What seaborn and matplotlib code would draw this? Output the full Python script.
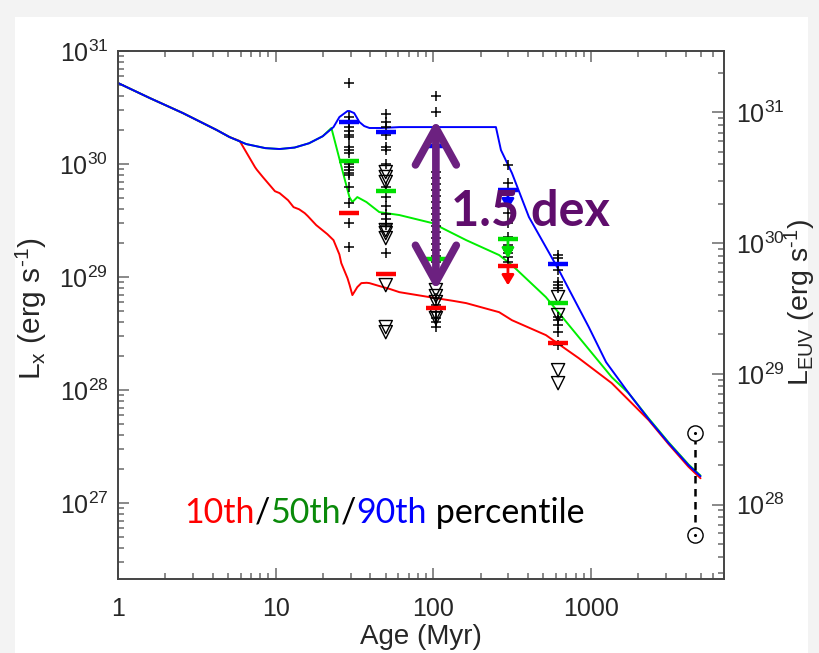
import numpy as np
import pandas as pd
import matplotlib
matplotlib.use("Agg")
import matplotlib.pyplot as plt
import matplotlib.transforms as mtransforms
from matplotlib.patches import Rectangle
from matplotlib.ticker import LogLocator, NullFormatter, LogFormatterSciNotation
import seaborn as sns

# ---------------- data (ages in Myr, luminosities as log10 erg/s) ----------------
blue_age = [1, 1.59, 2.58, 4.23, 5.1, 6.5, 8.6, 10.6, 13.2, 16.3, 19.9, 23.3, 25.4, 28.6,
            29.4, 31.5, 34, 36.5, 39.4, 47, 61, 100, 250, 269, 316, 405, 627, 971,
            1250, 1741, 2330, 3120, 4170, 4966]
blue_logLx = [30.717, 30.584, 30.451, 30.301, 30.239, 30.177, 30.141, 30.133, 30.146,
              30.184, 30.246, 30.327, 30.416, 30.469, 30.469, 30.451, 30.372, 30.336,
              30.319, 30.319, 30.327, 30.327, 30.327, 30.124, 29.920, 29.531, 29.062,
              28.558, 28.248, 27.973, 27.743, 27.531, 27.336, 27.239]

green_age = [1, 1.59, 2.58, 4.23, 5.1, 6.5, 8.6, 10.6, 13.2, 16.3, 19.9, 22.6, 26.5,
             29.4, 30.7, 33, 37.7, 45.5, 61, 98.6, 162, 262, 316, 519, 839, 1358, 1740,
             2330, 3120, 4170, 4966]
green_logLx = [30.717, 30.584, 30.451, 30.301, 30.239, 30.177, 30.141, 30.133, 30.146,
               30.184, 30.246, 30.319, 29.947, 29.708, 29.664, 29.708, 29.664, 29.575,
               29.549, 29.478, 29.327, 29.195, 29.106, 28.823, 28.469, 28.115, 27.973,
               27.750, 27.538, 27.343, 27.245]

red_age = [1, 1.59, 2.58, 4.23, 5.1, 5.92, 7.4, 7.6, 8.3, 9.9, 10.6, 12.0, 13.0, 14.1, 15.3,
           16.0, 18.1, 21.3, 23.3, 25.4, 26.1, 28.6, 29.5, 30.7, 33.0, 35.0, 37.8,
           39.4, 45.8, 53.1, 61, 104, 134, 162, 262, 316, 519, 839, 1358, 2330, 3120,
           4170, 4966]
red_logLx = [30.717, 30.584, 30.451, 30.301, 30.239, 30.204, 29.973, 29.950, 29.885,
             29.760, 29.743, 29.680, 29.619, 29.600, 29.566, 29.540, 29.460, 29.380,
             29.327, 29.200, 29.124, 28.990, 28.929, 28.841, 28.912, 28.947, 28.950,
             28.947, 28.920, 28.895, 28.867, 28.814, 28.790, 28.770, 28.690, 28.619,
             28.487, 28.283, 28.062, 27.735, 27.522, 27.322, 27.221]

# percentile bars at each cluster age
cluster_age = [29.4, 50, 104, 298, 620]
p10_logLx = [29.566, 29.027, 28.726, 29.097, 28.416]
p50_logLx = [30.027, 29.761, 29.159, 29.336, 28.770]
p90_logLx = [30.372, 30.283, 30.159, 29.770, 29.115]
limit_drop = 0.17   # length of upper-limit arrows at 300 Myr (dex)

# individual stars: detections (+) and upper limits (triangles)
det_age = ([29.4] * 19 + [50] * 14 + [104] * 24 + [298] * 11 + [620] * 12)
det_logLx = [30.717, 30.416, 30.372, 30.327, 30.292, 30.257, 30.239, 30.150, 30.124,
             30.097, 30.000, 29.973, 29.947, 29.920, 29.903, 29.796, 29.655, 29.478, 29.265,
             30.442, 30.372, 30.327, 30.257, 30.150, 30.124, 30.000, 29.796, 29.708,
             29.628, 29.558, 29.513, 29.460, 29.212,
             30.602, 30.460, 29.929, 29.876, 29.823, 29.770, 29.717, 29.664, 29.611,
             29.558, 29.504, 29.451, 29.398, 29.345, 29.292, 29.239, 29.186, 29.133,
             28.814, 28.752, 28.690, 28.637, 28.602, 28.558,
             29.991, 29.832, 29.681, 29.566, 29.478, 29.354, 29.283, 29.239, 29.212,
             29.177, 29.133,
             29.195, 29.168, 29.124, 29.062, 28.956, 28.929, 28.903, 28.646, 28.619,
             28.575, 28.513, 28.398]
lim_age = [50] * 9 + [104] * 5 + [620] * 4
lim_logLx = [29.929, 29.885, 29.841, 29.416, 29.389, 29.345, 28.929, 28.558, 28.513,
             28.885, 28.832, 28.779, 28.673, 28.637,
             28.823, 28.664, 28.177, 28.062]

# the Sun
sun_age = 4570
sun_logLx_hi = 27.619
sun_logLx_lo = 26.717

# spread arrow
dex_age = 104
dex_logLx_top = 30.389
dex_logLx_bot = 28.885

xtick_vals = [1, 10, 100, 1000]
xtick_labels = ["1", "10", "100", "1000"]
ytick_left = [1e27, 1e28, 1e29, 1e30, 1e31]
ytick_right = [1e28, 1e29, 1e30, 1e31]

# ---------------- style ----------------
sns.set_style("white")
plt.rcParams["font.family"] = ["Liberation Sans", "DejaVu Sans"]
plt.rcParams["mathtext.fontset"] = "custom"
plt.rcParams["mathtext.rm"] = "Liberation Sans"
plt.rcParams["mathtext.it"] = "Liberation Sans:italic"
plt.rcParams["mathtext.bf"] = "Liberation Sans:bold"

RED, GREEN, BLUE = "#ff0000", "#00ee00", "#0000ff"
PURPLE_T, PURPLE_A = "#5f0d6c", "#6c2180"
SPINE, TICK = "#444444", "#6a6a6a"

W, H = 820, 653
fig = plt.figure(figsize=(W / 100, H / 100), dpi=100, facecolor="#f3f3f3")
fig.patches.append(Rectangle((15 / W, 0), (808 - 15) / W, 1 - 17 / H,
                             transform=fig.transFigure, facecolor="white",
                             edgecolor="none", zorder=-10))
ax = fig.add_axes([118 / W, 1 - 579 / H, 606 / W, 528 / H])
ax.set_xscale("log")
ax.set_yscale("log")
ax.set_xlim(1, 7000)
ax.set_ylim(10 ** 26.33, 1e31)

# ---------------- curves ----------------
curves = pd.concat([
    pd.DataFrame({"age": red_age, "Lx": np.power(10.0, red_logLx), "pct": "10th"}),
    pd.DataFrame({"age": green_age, "Lx": np.power(10.0, green_logLx), "pct": "50th"}),
    pd.DataFrame({"age": blue_age, "Lx": np.power(10.0, blue_logLx), "pct": "90th"}),
], ignore_index=True)
sns.lineplot(data=curves, x="age", y="Lx", hue="pct", hue_order=["10th", "50th", "90th"],
             palette={"10th": RED, "50th": GREEN, "90th": BLUE}, sort=False,
             estimator=None, legend=False, linewidth=1.4, ax=ax, zorder=3)

# ---------------- stars ----------------
sns.scatterplot(x=det_age, y=np.power(10.0, det_logLx), marker="+", color="k",
                s=60, linewidth=1.1, ax=ax, zorder=4)
sns.scatterplot(x=lim_age, y=np.power(10.0, lim_logLx), marker="v", facecolor="none",
                edgecolor="k", s=90, linewidth=1.0, ax=ax, zorder=4)

# ---------------- percentile bars ----------------
for vals, col in [(p10_logLx, RED), (p50_logLx, "#00e000"), (p90_logLx, BLUE)]:
    sns.scatterplot(x=cluster_age, y=np.power(10.0, vals), marker="_", color=col,
                    s=215, linewidth=3.2, ax=ax, zorder=5)
for vals, col in [(p10_logLx, RED), (p50_logLx, "#00e000"), (p90_logLx, BLUE)]:
    i = 3
    ax.annotate("", xy=(cluster_age[i], 10 ** (vals[i] - limit_drop)),
                xytext=(cluster_age[i], 10 ** vals[i]),
                arrowprops=dict(arrowstyle="-|>,head_length=0.5,head_width=0.3",
                                color=col, lw=2.0, shrinkA=0, shrinkB=0,
                                mutation_scale=12), zorder=5)

# ---------------- the Sun ----------------
ax.plot([sun_age, sun_age], [10 ** sun_logLx_lo, 10 ** sun_logLx_hi], color="k",
        ls=(0, (3, 2.2)), lw=1.8, zorder=4)
sns.scatterplot(x=[sun_age, sun_age], y=[10 ** sun_logLx_hi, 10 ** sun_logLx_lo],
                marker="o", facecolor="white", edgecolor="k", s=120, linewidth=1.0,
                ax=ax, zorder=5)
sns.scatterplot(x=[sun_age, sun_age], y=[10 ** sun_logLx_hi, 10 ** sun_logLx_lo],
                marker="o", color="k", s=5, linewidth=0, ax=ax, zorder=6)

# ---------------- 1.5 dex arrow ----------------
ax.annotate("", xy=(dex_age, 10 ** dex_logLx_bot), xytext=(dex_age, 10 ** dex_logLx_top),
            arrowprops=dict(arrowstyle="<->,head_length=1.9,head_width=1.05",
                            color=PURPLE_A, lw=5.5, shrinkA=0, shrinkB=0,
                            mutation_scale=14, capstyle="round", joinstyle="round"),
            zorder=7)
ax.text(130, 10 ** 29.58, "1.5 dex", color=PURPLE_T, fontsize=35, fontweight="bold",
        family=["Lato", "DejaVu Sans"], ha="left", va="center", zorder=8)

# ---------------- axes styling ----------------
for s in ax.spines.values():
    s.set_color(SPINE)
    s.set_linewidth(1.2)
ax.set_xticks(xtick_vals)
ax.set_xticklabels(xtick_labels)
ax.xaxis.set_minor_locator(LogLocator(base=10, subs=np.arange(2, 10), numticks=20))
ax.xaxis.set_minor_formatter(NullFormatter())
ax.yaxis.set_major_locator(matplotlib.ticker.FixedLocator(ytick_left))
ax.yaxis.set_major_formatter(LogFormatterSciNotation())
ax.yaxis.set_minor_locator(LogLocator(base=10, subs=np.arange(2, 10), numticks=20))
ax.yaxis.set_minor_formatter(NullFormatter())
ax.tick_params(axis="x", which="both", direction="in", top=True, bottom=True,
               color=TICK, width=1.1, labelsize=18, pad=13)
ax.tick_params(axis="y", which="both", direction="in", left=True, right=False,
               color=TICK, width=1.1, labelsize=18, pad=7)
ax.tick_params(which="major", length=8)
ax.tick_params(which="minor", length=4)
ax.set_xlabel("")
ax.set_ylabel("")

ax2 = ax.twinx()
ax2.set_yscale("log")
ax2.set_ylim(10 ** 27.43, 10 ** 31.47)
ax2.yaxis.set_major_locator(matplotlib.ticker.FixedLocator(ytick_right))
ax2.yaxis.set_major_formatter(LogFormatterSciNotation())
ax2.yaxis.set_minor_locator(LogLocator(base=10, subs=np.arange(2, 10), numticks=20))
ax2.yaxis.set_minor_formatter(NullFormatter())
ax2.tick_params(axis="y", which="both", direction="in", right=True, left=False,
                color=TICK, width=1.1, labelsize=18, pad=9)
ax2.tick_params(which="major", length=9)
ax2.tick_params(which="minor", length=4.5)
for s in ax2.spines.values():
    s.set_color(SPINE)
    s.set_linewidth(1.2)

fig.text(421 / W, 1 - 637 / H, "Age (Myr)", fontsize=20, ha="center", va="center")
fig.text(31 / W, 1 - 309 / H, r"L$_\mathregular{x}$ (erg s$^\mathregular{\text{-}1}$)",
         fontsize=21.5, rotation=90, ha="center", va="center")
fig.text(800 / W, 1 - 302 / H, r"L$_\mathregular{EUV}$ (erg s$^\mathregular{\text{-}1}$)",
         fontsize=20.5, rotation=90, ha="center", va="center")

# ---------------- multicolour caption ----------------
parts = [("10th", RED), ("/", "black"), ("50th", "#0a8a0a"), ("/", "black"),
         ("90th", BLUE), (" percentile", "black")]
renderer = fig.canvas.get_renderer()
tr = ax.transAxes
for s, c in parts:
    t = ax.text(0.110, 0.125, s, color=c, transform=tr, fontsize=24.5,
                family=["Lato", "DejaVu Sans"], ha="left", va="center", zorder=8)
    bb = t.get_window_extent(renderer=renderer)
    tr = mtransforms.offset_copy(tr, fig=fig, x=bb.width, y=0, units="dots")

fig.savefig("out.png", dpi=100, facecolor=fig.get_facecolor())
